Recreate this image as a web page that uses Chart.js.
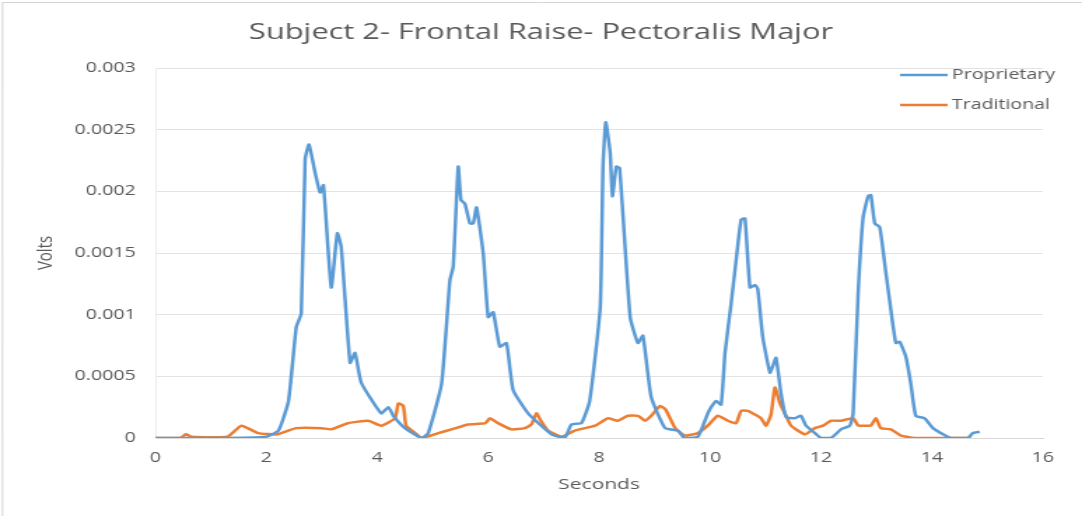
<!DOCTYPE html>
<html>
<head>
<meta charset="utf-8">
<script src="https://cdn.jsdelivr.net/npm/chart.js@4"></script>
<style>
  html, body { margin: 0; padding: 0; background: #fff; }
  /* the original picture is a horizontally stretched Excel export,
     so the canvas is drawn narrow and widened to 1082px */
  #emgChart { display: block; width: 1082px; height: 516px; }
</style>
</head>
<body>
<canvas id="emgChart" width="773" height="516" style="width:1082px;height:516px"></canvas>
<script>
// Subject 2 - Frontal Raise - Pectoralis Major (EMG, volts vs seconds)

const xTicks = [0, 2, 4, 6, 8, 10, 12, 14, 16];
const yTicks = [0, 0.0005, 0.001, 0.0015, 0.002, 0.0025, 0.003];

const propTime = [
  0, 1.3, 2.0, 2.22, 2.4, 2.54, 2.63, 2.70, 2.77, 2.88, 2.97, 3.03, 3.17, 3.28, 3.35,
  3.51, 3.60, 3.71, 4.07, 4.2, 4.29, 4.5, 4.8, 4.92, 5.16, 5.31, 5.37, 5.46, 5.51,
  5.58, 5.67, 5.73, 5.79, 5.91, 6.0, 6.09, 6.21, 6.33, 6.45, 6.72, 7.14, 7.38, 7.5,
  7.68, 7.83, 8.02, 8.07, 8.12, 8.2, 8.24, 8.31, 8.37, 8.56, 8.7, 8.79, 8.94, 9.19,
  9.42, 9.54, 9.78, 9.96, 10.02, 10.11, 10.2, 10.27, 10.38, 10.47, 10.56, 10.63,
  10.72, 10.81, 10.86, 10.95, 11.08, 11.13, 11.19, 11.28, 11.37, 11.53, 11.64, 11.73,
  11.89, 12.0, 12.18, 12.36, 12.52, 12.58, 12.67, 12.76, 12.85, 12.9, 12.97, 13.06,
  13.17, 13.26, 13.35, 13.42, 13.53, 13.62, 13.71, 13.87, 14.02, 14.2, 14.34, 14.65,
  14.74, 14.86
];
const propVolts = [
  0, 0, 0.00001, 0.00006, 0.0003, 0.0009, 0.00101, 0.00226, 0.00238, 0.00215, 0.00199,
  0.00205, 0.00122, 0.00166, 0.00155, 0.00061, 0.00069, 0.00045, 0.0002, 0.00025,
  0.00018, 0.00008, 0, 0.00004, 0.00044, 0.00128, 0.00139, 0.0022, 0.00193, 0.0019,
  0.00174, 0.00174, 0.00187, 0.0015, 0.00098, 0.00102, 0.00074, 0.00077, 0.00039,
  0.0002, 0.00003, 0, 0.00011, 0.00012, 0.0003, 0.00106, 0.0022, 0.00256, 0.00231,
  0.00196, 0.0022, 0.00219, 0.00098, 0.00077, 0.00083, 0.00033, 0.00008, 0.00006, 0,
  0.00001, 0.0002, 0.00025, 0.0003, 0.00027, 0.00069, 0.00109, 0.00144, 0.00177,
  0.00178, 0.00122, 0.00124, 0.00121, 0.00082, 0.00053, 0.00058, 0.00065, 0.00036,
  0.00017, 0.00016, 0.00018, 0.0001, 0.00004, 0, 0, 0.00007, 0.0001, 0.0002, 0.00117,
  0.00179, 0.00196, 0.00197, 0.00174, 0.00171, 0.00134, 0.00104, 0.00077, 0.00078,
  0.00066, 0.00044, 0.00018, 0.00016, 0.00008, 0.00003, 0, 0, 0.00004, 0.00005
];

const tradTime = [
  0, 0.45, 0.55, 0.65, 1.3, 1.55, 1.85, 2.2, 2.54, 3.0, 3.17, 3.47, 3.84, 4.07, 4.32,
  4.38, 4.47, 4.52, 4.68, 4.8, 5.1, 5.34, 5.64, 5.95, 6.03, 6.18, 6.42, 6.66, 6.78,
  6.87, 6.95, 7.08, 7.32, 7.56, 7.93, 8.16, 8.34, 8.52, 8.7, 8.83, 8.94, 9.1, 9.2,
  9.37, 9.54, 9.78, 9.96, 10.14, 10.32, 10.47, 10.56, 10.68, 10.81, 10.92, 11.01,
  11.1, 11.17, 11.26, 11.35, 11.46, 11.71, 11.89, 12.04, 12.18, 12.36, 12.58, 12.67,
  12.79, 12.9, 12.99, 13.08, 13.26, 13.44, 13.69, 14.7
];
const tradVolts = [
  0, 0, 0.00003, 0.00001, 0.00001, 0.0001, 0.00004, 0.00003, 0.00008, 0.00008, 0.00007,
  0.00012, 0.00014, 0.0001, 0.00016, 0.00028, 0.00026, 0.0001, 0.00004, 0, 0.00004,
  0.00007, 0.00011, 0.00012, 0.00016, 0.00012, 0.00007, 0.00008, 0.00011, 0.0002,
  0.00014, 0.00006, 0.00001, 0.00006, 0.0001, 0.00016, 0.00014, 0.00018, 0.00018,
  0.00014, 0.00018, 0.00026, 0.00023, 0.00008, 0.00002, 0.00004, 0.0001, 0.00018,
  0.00014, 0.00012, 0.00022, 0.00022, 0.00019, 0.00016, 0.0001, 0.00019, 0.00041,
  0.00028, 0.0002, 0.0001, 0.00003, 0.00008, 0.0001, 0.00014, 0.00014, 0.00016, 0.0001,
  0.0001, 0.0001, 0.00016, 0.00008, 0.00007, 0.00002, 0, 0
];

const chartTitle = 'Subject 2- Frontal Raise- Pectoralis Major';
const seriesNames = ['Proprietary', 'Traditional'];
const seriesColors = ['#5B9BD5', '#ED7D31'];

const textGray = '#595959';
const fontFamily = "'Open Sans', 'Noto Sans', sans-serif";

const toPoints = (xs, ys) => xs.map((x, i) => ({ x: x, y: ys[i] }));

// Title centred on the whole picture, legend inside the plot at top right
const decorations = {
  id: 'decorations',
  beforeDraw(chart) {
    const ctx = chart.ctx;
    ctx.save();
    ctx.strokeStyle = '#d4d4d4';
    ctx.lineWidth = 1;
    ctx.beginPath();
    ctx.moveTo(1.8, 516);
    ctx.lineTo(1.8, 2.5);
    ctx.lineTo(chart.width, 2.5);
    ctx.stroke();
    ctx.restore();
  },
  afterDraw(chart) {
    const ctx = chart.ctx;
    ctx.save();
    ctx.fillStyle = textGray;
    ctx.font = '22px ' + fontFamily;
    ctx.textAlign = 'center';
    ctx.textBaseline = 'middle';
    ctx.fillText(chartTitle, chart.width / 2, 33);

    ctx.font = '14px ' + fontFamily;
    ctx.textAlign = 'left';
    seriesNames.forEach((name, i) => {
      const y = 75 + i * 30;
      ctx.strokeStyle = seriesColors[i];
      ctx.lineWidth = 2.5;
      ctx.beginPath();
      ctx.moveTo(643, y);
      ctx.lineTo(677, y);
      ctx.stroke();
      ctx.fillStyle = textGray;
      ctx.fillText(name, 680, y);
    });
    ctx.restore();
  }
};

new Chart(document.getElementById('emgChart'), {
  type: 'line',
  data: {
    datasets: [
      {
        label: seriesNames[0],
        data: toPoints(propTime, propVolts),
        borderColor: seriesColors[0],
        borderWidth: 2.5,
        pointRadius: 0,
        tension: 0.15
      },
      {
        label: seriesNames[1],
        data: toPoints(tradTime, tradVolts),
        borderColor: seriesColors[1],
        borderWidth: 2.5,
        pointRadius: 0,
        tension: 0.15
      }
    ]
  },
  options: {
    responsive: false,
    animation: false,
    devicePixelRatio: 1,
    layout: { padding: { top: 68, right: 28, bottom: 0, left: 0 } },
    plugins: {
      legend: { display: false },
      tooltip: { enabled: false },
      title: { display: false }
    },
    scales: {
      x: {
        type: 'linear',
        min: 0,
        max: 16,
        afterBuildTicks: (scale) => { scale.ticks = xTicks.map(v => ({ value: v })); },
        afterFit: (scale) => { scale.height = 78; },
        grid: { display: false, drawTicks: false },
        border: { display: true, color: '#d9d9d9', width: 1 },
        ticks: {
          color: textGray,
          font: { family: fontFamily, size: 14 },
          padding: 12,
          maxRotation: 0
        },
        title: {
          display: true,
          text: 'Seconds',
          color: textGray,
          font: { family: fontFamily, size: 15 },
          padding: { top: 4, bottom: 22 }
        }
      },
      y: {
        min: 0,
        max: 0.003,
        afterBuildTicks: (scale) => { scale.ticks = yTicks.map(v => ({ value: v })); },
        afterFit: (scale) => { scale.width = 111; },
        grid: { color: '#e3e3e3', drawTicks: false },
        border: { display: true, color: '#ececec' },
        ticks: {
          color: textGray,
          font: { family: fontFamily, size: 14 },
          padding: 14,
          callback: (v) => String(v)
        },
        title: {
          display: true,
          text: 'Volts',
          color: textGray,
          font: { family: fontFamily, size: 15 },
          padding: { top: 24, bottom: 0 }
        }
      }
    }
  },
  plugins: [decorations]
});
</script>
</body>
</html>
